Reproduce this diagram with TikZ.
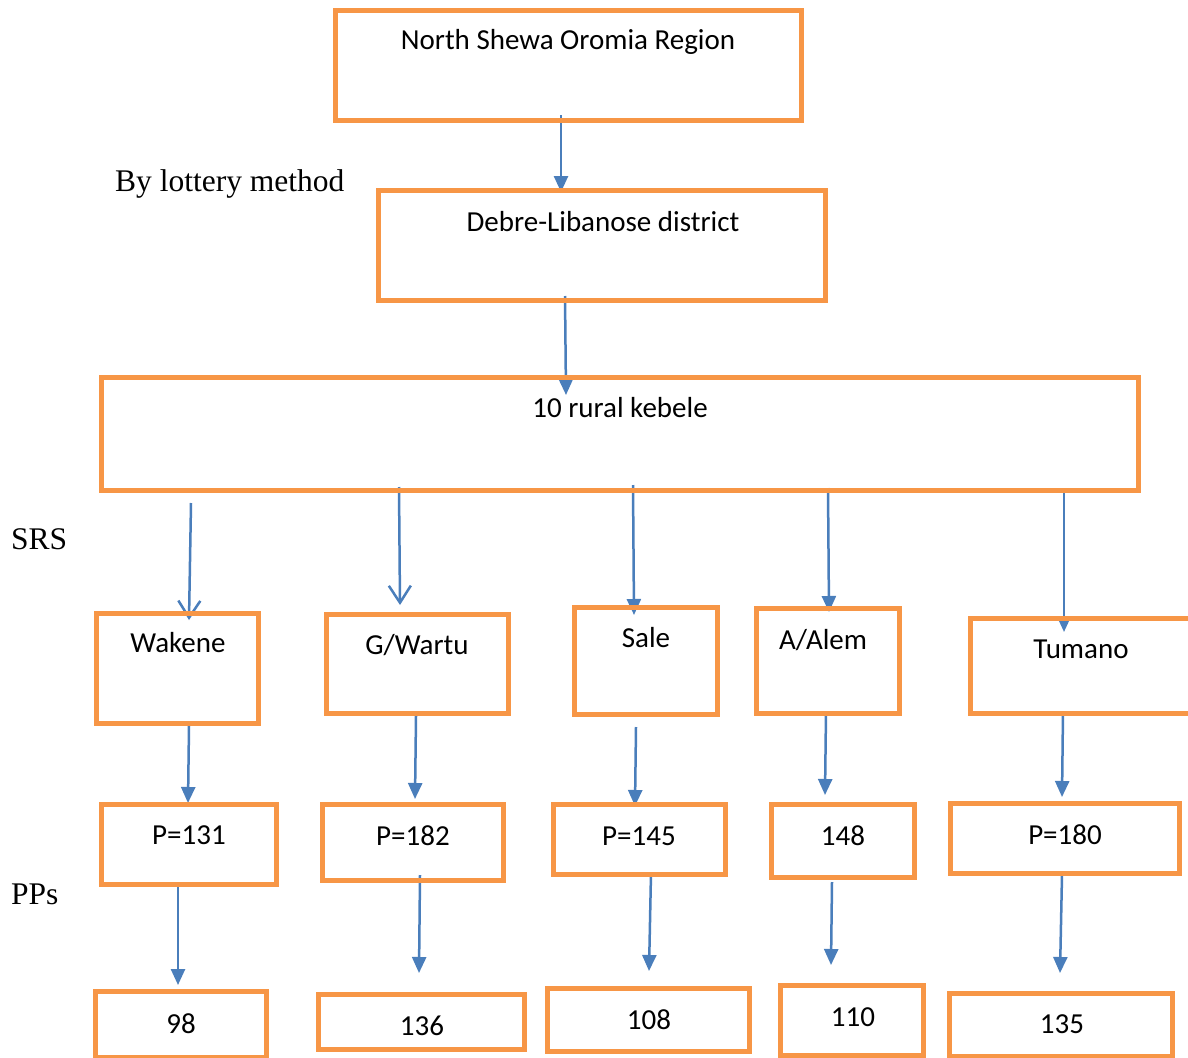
\documentclass[tikz,border=0pt]{standalone}
\usepackage{fontspec}
\setmainfont{Liberation Serif}
\newfontfamily\boxfont{Carlito}
\usetikzlibrary{arrows.meta}
\definecolor{boxorange}{HTML}{F79646}
\definecolor{arrblue}{HTML}{4A7EBB}
\tikzset{
  btxt/.style={font=\boxfont\fontsize{29}{34}\selectfont, anchor=base, inner sep=0pt},
  side/.style={font=\fontsize{31.5}{36}\selectfont, anchor=base west, inner sep=0pt},
  geo/.style={inner sep=0pt, outer sep=0pt},
  arr/.style={draw=arrblue, line width=2.5pt, -{Triangle[length=16pt,width=14pt]}},
  varr/.style={draw=arrblue, line width=2.5pt, -{Straight Barb[length=17pt,width=22pt,line width=2.5pt]}}
}
\begin{document}
\begin{tikzpicture}[x=1pt,y=-1pt]
\clip (0,0) rectangle (1188,1057);
\fill[white] (0,0) rectangle (1188,1057);

% side labels
\node[side] (lot) at (115,191) {By lottery method};
\node[side] (srs) at (11,549) {SRS};
\node[side] (pps) at (11,904) {PPs};

% boxes (geometry, named)
\node[geo, minimum width=466pt, minimum height=110pt] (n1) at (568.5,65.5) {};
\node[geo, minimum width=447pt, minimum height=110pt] (n2) at (602,245.5) {};
\node[geo, minimum width=1037pt, minimum height=113pt] (n3) at (620,434) {};
\node[geo, minimum width=162pt, minimum height=110pt] (wak) at (177.5,668.5) {};
\node[geo, minimum width=182pt, minimum height=99pt] (gw) at (417.5,664) {};
\node[geo, minimum width=143pt, minimum height=107pt] (sale) at (646,661) {};
\node[geo, minimum width=143pt, minimum height=105pt] (alem) at (828,661) {};
\node[geo, minimum width=229.5pt, minimum height=95pt] (tum) at (1085.25,666) {};
\node[geo, minimum width=175pt, minimum height=80pt] (p131) at (189,844.5) {};
\node[geo, minimum width=181pt, minimum height=76pt] (p182) at (413,842.5) {};
\node[geo, minimum width=172pt, minimum height=70pt] (p145) at (639.5,839.5) {};
\node[geo, minimum width=143pt, minimum height=73pt] (p148) at (843,841) {};
\node[geo, minimum width=229pt, minimum height=70pt] (p180) at (1065,838.5) {};
\node[geo, minimum width=171pt, minimum height=65.5pt] (n98) at (181,1024.25) {};
\node[geo, minimum width=206pt, minimum height=55pt] (n136) at (421.5,1022) {};
\node[geo, minimum width=202pt, minimum height=63pt] (n108) at (648.5,1020) {};
\node[geo, minimum width=143pt, minimum height=69.5pt] (n110) at (852,1020.25) {};
\node[geo, minimum width=223pt, minimum height=62.5pt] (n135) at (1061,1024.75) {};

% connectors
\draw[arr] ([shift={(-7.5,-5.5)}]n1.south) -- ([shift={(-41,1.5)}]n2.north);
\draw[arr] ([shift={(-37,-4.5)}]n2.south) -- ([shift={(-54,17.5)}]n3.north);
\draw[varr] ([shift={(-429,12.5)}]n3.south) -- ([shift={(11.5,6.5)}]wak.north);
\draw[varr] ([shift={(-221,-3.5)}]n3.south) -- ([shift={(-17.5,-9.5)}]gw.north);
\draw[arr] ([shift={(13,-5.5)}]n3.south) -- ([shift={(-12,7.5)}]sale.north);
\draw[arr] ([shift={(208,-2.5)}]n3.south) -- ([shift={(1,3.5)}]alem.north);
\draw[arr] ([shift={(444,2.5)}]n3.south) -- ([shift={(-21.25,13.5)}]tum.north);
\draw[arr] ([shift={(11.5,2.5)}]wak.south) -- ([shift={(-1,-1.5)}]p131.north);
\draw[arr] ([shift={(-1.5,2.5)}]gw.south) -- ([shift={(2,-5.5)}]p182.north);
\draw[arr] ([shift={(-10,12.5)}]sale.south) -- ([shift={(-4.5,1.5)}]p145.north);
\draw[arr] ([shift={(-2,-1.5)}]alem.south) -- ([shift={(-18,-9.5)}]p148.north);
\draw[arr] ([shift={(-22.25,-1.5)}]tum.south) -- ([shift={(-3,-6.5)}]p180.north);
\draw[arr] ([shift={(-11,2.5)}]p131.south) -- ([shift={(-3,-6.5)}]n98.north);
\draw[arr] ([shift={(7,-5.5)}]p182.south) -- ([shift={(-2.5,-21.5)}]n136.north);
\draw[arr] ([shift={(11.5,-1.5)}]p145.south) -- ([shift={(0.5,-17.5)}]n108.north);
\draw[arr] ([shift={(-11,4.5)}]p148.south) -- ([shift={(-21,-20.5)}]n110.north);
\draw[arr] ([shift={(-3,1.5)}]p180.south) -- ([shift={(-1,-20.5)}]n135.north);

% box outlines on top
\foreach \b in {n1,n2,n3,wak,gw,sale,alem,tum,p131,p182,p145,p148,p180,n98,n136,n108,n110,n135}
  \draw[draw=boxorange, line width=5pt] (\b.south west) rectangle (\b.north east);

% box texts
\node[btxt] (t1) at (568,50) {North Shewa Oromia Region};
\node[btxt] (t2) at (603,231) {Debre-Libanose district};
\node[btxt] (t3) at (620,417) {10 rural kebele};
\node[btxt] (twak) at (178,652) {Wakene};
\node[btxt] (tgw) at (417,654) {G/Wartu};
\node[btxt] (tsale) at (646,647) {Sale};
\node[btxt] (talem) at (823,649) {A/Alem};
\node[btxt] (ttum) at (1081,658) {Tumano};
\node[btxt] (tp131) at (189,844) {P=131};
\node[btxt] (tp182) at (413,845) {P=182};
\node[btxt] (tp145) at (639,845) {P=145};
\node[btxt] (tp148) at (843,845) {148};
\node[btxt] (tp180) at (1065,844) {P=180};
\node[btxt] (t98) at (181,1033) {98};
\node[btxt] (t136) at (422,1035) {136};
\node[btxt] (t108) at (649,1029) {108};
\node[btxt] (t110) at (853,1026) {110};
\node[btxt] (t135) at (1062,1033) {135};
\end{tikzpicture}
\end{document}
